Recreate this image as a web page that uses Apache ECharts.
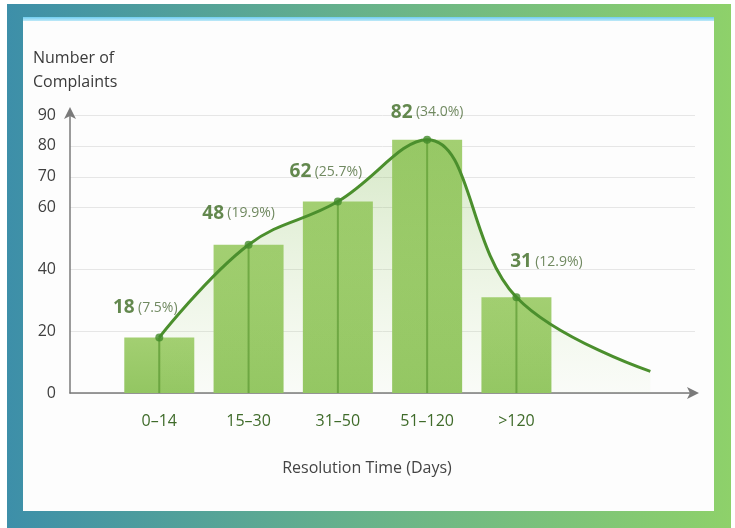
<!DOCTYPE html>
<html>
<head>
<meta charset="utf-8">
<script src="https://cdn.jsdelivr.net/npm/echarts@6/dist/echarts.min.js"></script>
<style>
  html, body { margin: 0; padding: 0; background: #ffffff; }
  #chart { width: 735px; height: 528px; }
</style>
</head>
<body>
<div id="chart"></div>
<script>
// Complaint counts by resolution-time bucket
const categories = ['0–14', '15–30', '31–50', '51–120', '>120'];
const complaints = [18, 48, 62, 82, 31];

// Fitted distribution curve: passes through each bucket, then tails off past the last one
const curveX = [0, 1, 2, 3, 4, 5.5];
const curveY = [18, 48, 62, 82, 31, 7];

// Y-axis labels that are drawn
const yTicks = [0, 20, 40, 60, 70, 80, 90];

const FONT = '"Open Sans", "Noto Sans", sans-serif';
const total = complaints.reduce((a, b) => a + b, 0);

// nudges for the value labels so they clear the curve
const labelNudge = [[-14, -4], [-10, -6], [-12, -4], [0, -2], [30, -10]];

const barData = complaints.map((v, i) => [i, v]);
const pointData = complaints.map((v, i) => ({
  value: [i, v],
  share: (v / total * 100).toFixed(1),
  label: { offset: labelNudge[i] }
}));
const curveData = curveX.map((x, i) => [x, curveY[i]]);

const chart = echarts.init(document.getElementById('chart'), null, { renderer: 'canvas' });

const xAxisBase = {
  type: 'value',
  min: -1, max: 6, interval: 1,
  axisTick: { show: false },
  splitLine: { show: false }
};

chart.setOption({
  animation: false,
  backgroundColor: '#ffffff',
  graphic: [
    {
      type: 'rect', z: -10, silent: true,
      shape: { x: 7, y: 4, width: 724, height: 524 },
      style: {
        fill: new echarts.graphic.LinearGradient(0, 0, 1, 0, [
          { offset: 0, color: '#3d8fa9' },
          { offset: 0.5, color: '#68b38a' },
          { offset: 1, color: '#8ed16a' }
        ])
      }
    },
    {
      type: 'rect', z: -9, silent: true,
      shape: { x: 23, y: 17, width: 691, height: 494 },
      style: { fill: '#fdfdfd' }
    },
    {
      type: 'rect', z: -8, silent: true,
      shape: { x: 23, y: 17, width: 691, height: 4 },
      style: {
        fill: new echarts.graphic.LinearGradient(0, 0, 0, 1, [
          { offset: 0, color: '#6fcdf0' },
          { offset: 1, color: '#bfe9f8' }
        ])
      }
    }
  ],
  title: [
    {
      text: 'Number of\nComplaints',
      left: 28, top: 41,
      textStyle: { fontFamily: FONT, fontSize: 16, fontWeight: 'normal', color: '#3a3a3a', lineHeight: 24 }
    },
    {
      text: 'Resolution Time (Days)',
      left: 362, top: 455, textAlign: 'center',
      textStyle: { fontFamily: FONT, fontSize: 16, fontWeight: 'normal', color: '#444444' }
    }
  ],
  grid: { left: 70, top: 115, right: 40, bottom: 135, outerBoundsMode: 'none' },
  xAxis: [
    Object.assign({}, xAxisBase, {
      axisLine: {
        show: true,
        lineStyle: { color: '#7a7a7a', width: 1.5 },
        symbol: ['none', 'arrow'],
        symbolSize: [9, 12],
        symbolOffset: [0, 4]
      },
      axisLabel: {
        customValues: [0, 1, 2, 3, 4],
        formatter: v => categories[Math.round(v)] ?? '',
        margin: 20,
        fontFamily: FONT, fontSize: 16, color: '#3f6b2a'
      }
    }),
    // twin axis so the centre stems are laid out on their own, centred on each bucket
    Object.assign({}, xAxisBase, {
      show: false
    })
  ],
  yAxis: {
    type: 'value',
    min: 0, max: 90, interval: 10,
    axisLine: {
      show: true,
      onZero: false,
      lineStyle: { color: '#7a7a7a', width: 1.5 },
      symbol: ['none', 'arrow'],
      symbolSize: [9, 12],
      symbolOffset: [0, 8]
    },
    axisTick: { show: false, customValues: yTicks },
    splitLine: { show: true, lineStyle: { color: '#e6e6e6', width: 1 } },
    axisLabel: {
      customValues: yTicks,
      margin: 14,
      fontFamily: FONT, fontSize: 16, color: '#3f3f3f'
    }
  },
  series: [
    {
      name: 'Complaints',
      type: 'bar',
      xAxisIndex: 0,
      data: barData,
      barWidth: 70,
      z: 2,
      itemStyle: {
        color: new echarts.graphic.LinearGradient(0, 0, 0, 1, [
          { offset: 0, color: '#a3cf72' },
          { offset: 1, color: '#93c662' }
        ])
      }
    },
    {
      name: 'Stem',
      type: 'bar',
      xAxisIndex: 1,
      data: barData,
      barWidth: 2,
      z: 3,
      itemStyle: { color: '#6aa43f' }
    },
    {
      name: 'Curve',
      type: 'line',
      xAxisIndex: 0,
      data: curveData,
      smooth: 0.4,
      showSymbol: false,
      z: 4,
      lineStyle: { color: '#4b8f2d', width: 3 },
      areaStyle: {
        color: new echarts.graphic.LinearGradient(0, 0, 0, 1, [
          { offset: 0, color: 'rgba(120,182,70,0.42)' },
          { offset: 1, color: 'rgba(170,215,120,0.06)' }
        ])
      }
    },
    {
      name: 'Points',
      type: 'scatter',
      xAxisIndex: 0,
      data: pointData,
      symbolSize: 8,
      z: 5,
      itemStyle: { color: '#428b2b' },
      label: {
        show: true,
        position: 'top',
        distance: 12,
        formatter: p => '{v|' + p.value[1] + '} {s|(' + p.data.share + '%)}',
        rich: {
          v: { fontFamily: FONT, fontSize: 19, fontWeight: 'bold', color: '#3c6a22' },
          s: { fontFamily: FONT, fontSize: 14, color: '#4c6b38' }
        }
      }
    }
  ]
});
</script>
</body>
</html>
